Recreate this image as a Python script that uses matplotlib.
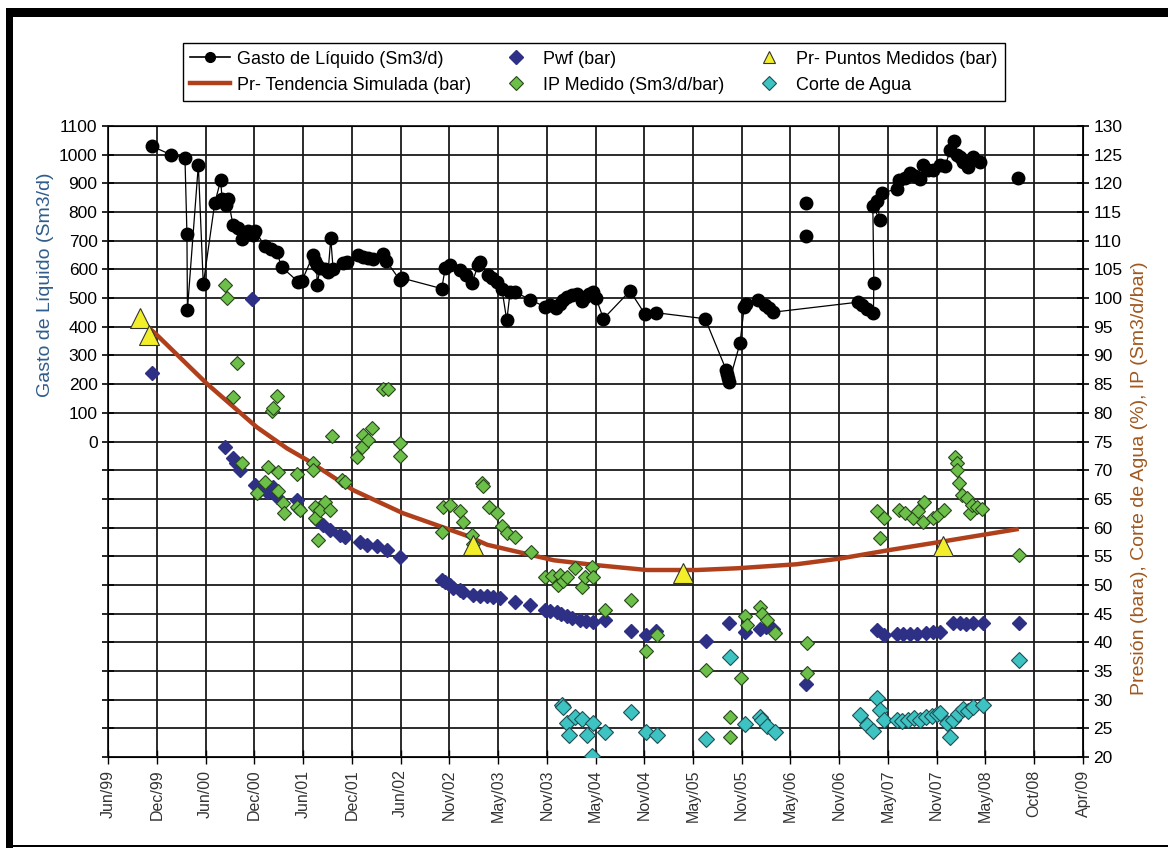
import numpy as np
import matplotlib.pyplot as plt
from matplotlib.lines import Line2D
from matplotlib.patches import Rectangle

plt.rcParams['font.family'] = ['Liberation Sans Narrow', 'Liberation Sans', 'DejaVu Sans']

# Eje X (años decimales) y etiquetas de fecha.
x_start, x_end = 1999.414, 2009.25
tick_labels = ['Jun/99', 'Dec/99', 'Jun/00', 'Dec/00', 'Jun/01', 'Dec/01', 'Jun/02',
               'Nov/02', 'May/03', 'Nov/03', 'May/04', 'Nov/04', 'May/05', 'Nov/05',
               'May/06', 'Nov/06', 'May/07', 'Nov/07', 'May/08', 'Oct/08', 'Apr/09']

# Gasto de liquido (Sm3/d) - serie con linea.
gasto_t = [1999.855, 2000.047, 2000.19, 2000.21, 2000.215, 2000.325, 2000.375, 2000.49,
           2000.55, 2000.565, 2000.605, 2000.625, 2000.675, 2000.725, 2000.763, 2000.827,
           2000.88, 2000.897, 2000.998, 2001.06, 2001.116, 2001.167, 2001.335, 2001.37,
           2001.483, 2001.503, 2001.52, 2001.523, 2001.553, 2001.604, 2001.634, 2001.661,
           2001.685, 2001.785, 2001.826, 2001.937, 2001.987, 2002.038, 2002.088, 2002.19,
           2002.22, 2002.36, 2002.378, 2002.781, 2002.815, 2002.865, 2002.966, 2003.027,
           2003.084, 2003.148, 2003.168, 2003.252, 2003.289, 2003.336, 2003.387, 2003.437,
           2003.47, 2003.52, 2003.672, 2003.824, 2003.874, 2003.935, 2003.975, 2004.005,
           2004.043, 2004.096, 2004.147, 2004.197, 2004.227, 2004.268, 2004.311, 2004.338,
           2004.412, 2004.68, 2004.833, 2004.944, 2005.438, 2005.65, 2005.66, 2005.673,
           2005.68, 2005.79, 2005.832, 2005.852, 2005.976, 2006.044, 2006.084, 2006.127,
           2006.985, 2007.02, 2007.07, 2007.136, 2007.14, 2007.13, 2007.2, 2007.174,
           2007.225, 2007.37, 2007.39, 2007.456, 2007.507, 2007.557, 2007.608, 2007.64,
           2007.69, 2007.742, 2007.81, 2007.86, 2007.91, 2007.944, 2007.98, 2008.01,
           2008.04, 2008.095, 2008.145, 2008.213]
gasto_q = [1030, 1000, 990, 725, 460, 964, 548, 830,
           911, 845, 825, 845, 755, 745, 705, 735,
           720, 735, 680, 670, 660, 608, 556, 560,
           650, 630, 615, 545, 605, 600, 590, 708,
           600, 621, 625, 650, 645, 640, 638, 655,
           630, 562, 570, 533, 604, 615, 597, 580,
           551, 615, 625, 580, 570, 556, 533, 422,
           520, 521, 495, 469, 475, 464, 480, 495,
           503, 510, 515, 490, 505, 515, 521, 500,
           428, 525, 443, 449, 428, 250, 235, 220,
           207, 343, 469, 480, 492, 475, 465, 451,
           486, 475, 463, 448, 554, 822, 772, 837,
           865, 882, 911, 920, 935, 925, 917, 964,
           945, 946, 964, 960, 1016, 1048, 1000, 993,
           975, 958, 993, 975]

# Puntos de gasto sin linea.
gasto_sueltos_t = [2006.46, 2006.46, 2008.594]
gasto_sueltos_q = [831, 715, 920]

# Pwf (bar)
pwf_t = [1999.858, 2000.867, 2000.595, 2000.678, 2000.706, 2000.746, 2000.897, 2000.948,
         2001.015, 2001.082, 2001.116, 2001.318, 2001.334, 2001.52, 2001.587, 2001.654,
         2001.755, 2001.806, 2001.957, 2002.025, 2002.125, 2002.226, 2002.36, 2002.781,
         2002.815, 2002.865, 2002.899, 2002.966, 2003.0, 2003.1, 2003.168, 2003.236,
         2003.3, 2003.37, 2003.52, 2003.672, 2003.824, 2003.874, 2003.942, 2003.985,
         2004.043, 2004.096, 2004.177, 2004.238, 2004.311, 2004.43, 2004.688, 2004.843,
         2004.944, 2005.449, 2005.674, 2005.842, 2005.993, 2006.054, 2006.127, 2006.458,
         2007.171, 2007.238, 2007.373, 2007.436, 2007.507, 2007.578, 2007.668, 2007.739,
         2007.81, 2007.941, 2008.012, 2008.072, 2008.143, 2008.244, 2008.6]
pwf_p = [86.9, 99.8, 74.1, 72.1, 71.2, 70.0, 67.5, 66.5,
         66.2, 67.1, 65.4, 64.8, 63.4, 61.3, 60.4, 59.6,
         58.7, 58.4, 57.5, 57.0, 56.7, 56.1, 54.9, 50.9,
         50.5, 50.0, 49.4, 49.1, 48.8, 48.3, 48.1, 48.0,
         47.9, 47.7, 47.1, 46.5, 45.6, 45.5, 45.3, 45.0,
         44.5, 44.2, 43.9, 43.7, 43.6, 43.8, 42.0, 41.3,
         42.0, 40.3, 43.3, 41.8, 42.4, 42.6, 42.4, 32.8,
         42.1, 41.3, 41.4, 41.4, 41.5, 41.5, 41.7, 41.8,
         41.8, 43.3, 43.3, 43.2, 43.3, 43.3, 43.3]

# IP Medido (Sm3/d/bar)
ip_t = [2000.595, 2000.612, 2000.672, 2000.713, 2000.763, 2000.914, 2000.998, 2001.032,
        2001.066, 2001.076, 2001.116, 2001.133, 2001.133, 2001.183, 2001.19, 2001.318,
        2001.324, 2001.351, 2001.486, 2001.486, 2001.503, 2001.503, 2001.536, 2001.553,
        2001.604, 2001.654, 2001.671, 2001.772, 2001.806, 2001.924, 2001.974, 2001.99,
        2002.075, 2002.041, 2002.192, 2002.243, 2002.36, 2002.36, 2002.781, 2002.798,
        2002.865, 2002.966, 2003.0, 2003.084, 2003.1, 2003.185, 2003.198, 2003.255,
        2003.336, 2003.387, 2003.437, 2003.52, 2003.68, 2003.824, 2003.891, 2003.958,
        2003.975, 2004.008, 2004.043, 2004.126, 2004.194, 2004.227, 2004.295, 2004.311,
        2004.43, 2004.688, 2004.843, 2004.951, 2005.449, 2005.684, 2005.684, 2005.799,
        2005.842, 2005.859, 2005.993, 2006.014, 2006.061, 2006.145, 2006.465, 2006.465,
        2007.171, 2007.205, 2007.238, 2007.393, 2007.456, 2007.54, 2007.588, 2007.641,
        2007.648, 2007.742, 2007.79, 2007.843, 2007.961, 2007.978, 2007.978, 2008.001,
        2008.028, 2008.079, 2008.112, 2008.129, 2008.18, 2008.23, 2008.6]
ip_v = [102.3, 100.0, 82.8, 88.6, 71.2, 66.0, 68.0, 70.6,
        80.4, 80.8, 82.9, 69.7, 66.3, 64.2, 62.5, 63.6,
        69.4, 63.1, 71.2, 70.0, 63.6, 61.6, 57.8, 63.1,
        64.5, 63.1, 76.0, 68.3, 68.0, 72.3, 74.1, 76.1,
        77.3, 75.3, 84.1, 84.1, 74.7, 72.4, 59.3, 63.6,
        63.9, 62.8, 61.0, 58.7, 57.2, 67.7, 67.3, 63.6,
        62.5, 60.2, 59.0, 58.4, 55.8, 51.4, 51.5, 50.0,
        51.7, 50.6, 51.4, 52.9, 49.7, 51.4, 53.2, 51.4,
        45.6, 47.4, 38.4, 41.3, 35.2, 27.0, 23.5, 33.7,
        44.5, 43.0, 46.2, 45.0, 43.9, 41.6, 39.8, 34.6,
        62.8, 58.1, 61.6, 63.1, 62.5, 61.6, 62.8, 61.0,
        64.5, 61.6, 62.2, 63.1, 72.3, 71.2, 70.0, 67.7,
        65.7, 65.1, 62.5, 63.9, 63.6, 63.3, 55.2]

# Corte de Agua (%)
agua_t = [2003.992, 2004.005, 2004.043, 2004.06, 2004.126, 2004.194, 2004.245, 2004.295,
          2004.311, 2004.43, 2004.692, 2004.843, 2004.951, 2005.449, 2005.684, 2005.842,
          2005.993, 2006.014, 2006.061, 2006.145, 2007.0, 2007.07, 2007.136, 2007.171,
          2007.205, 2007.238, 2007.373, 2007.427, 2007.487, 2007.548, 2007.608, 2007.668,
          2007.729, 2007.78, 2007.81, 2007.877, 2007.911, 2007.941, 2007.99, 2008.04,
          2008.09, 2008.14, 2008.244, 2008.6]
agua_v = [29.1, 28.8, 25.9, 23.8, 27.0, 26.7, 23.8, 20.1,
          25.9, 24.4, 27.9, 24.4, 23.8, 23.1, 37.5, 25.7,
          27.0, 26.5, 25.4, 24.4, 27.3, 25.5, 24.6, 30.2,
          28.2, 26.5, 26.5, 26.3, 26.5, 26.8, 26.5, 27.0,
          27.2, 27.5, 27.7, 25.9, 23.5, 26.5, 27.5, 28.3,
          28.0, 28.8, 29.1, 36.9]

# Pr- Puntos Medidos (bar)
pr_med_t = [1999.737, 1999.828, 2003.097, 2005.216, 2007.84]
pr_med_p = [96.5, 93.6, 57.0, 52.0, 56.8]

# Pr- Tendencia Simulada (bar)
pr_sim_t = [1999.84, 1999.905, 2000.41, 2000.915, 2001.22, 2001.42, 2001.89, 2002.39,
            2003.03, 2003.24, 2003.91, 2004.31, 2004.85, 2005.355, 2005.76, 2006.36,
            2006.80, 2007.305, 2007.81, 2008.58]
pr_sim_p = [94.6, 93.6, 85.1, 77.5, 73.8, 71.8, 66.5, 62.5,
            58.6, 57.0, 54.3, 53.5, 52.6, 52.6, 52.9, 53.6,
            54.6, 56.1, 57.5, 59.7]

# Figura y ejes.
fig = plt.figure(figsize=(11.68, 8.48), dpi=100)
ax = fig.add_axes([0.0925, 0.1073, 0.8347, 0.7441])
ax2 = ax.twinx()

grid_color = '#1a1a1a'

# Eje izquierdo: gasto.
ax.set_xlim(x_start, x_end)
ax.set_ylim(-1100, 1100)
ax.set_yticks(np.arange(-1100, 1101, 100))
ax.set_yticklabels([str(v) if v >= 0 else '' for v in range(-1100, 1101, 100)])
ax.set_xticks(np.linspace(x_start, x_end, len(tick_labels)))
ax.set_xticklabels(tick_labels, rotation=90, fontsize=11.5, color='#333333')
ax.grid(True, color=grid_color, linewidth=1.3, zorder=0)
ax.tick_params(axis='y', direction='inout', length=9, width=1.2, labelsize=12.5, pad=3)
ax.tick_params(axis='x', direction='inout', length=10, width=1.0, pad=4)
for s in ax.spines.values():
    s.set_color(grid_color)
    s.set_linewidth(1.3)

ax.plot(gasto_t, gasto_q, color='black', linewidth=0.9, marker='o', markersize=9,
        markerfacecolor='black', markeredgecolor='black', zorder=3)
ax.plot(gasto_sueltos_t, gasto_sueltos_q, linestyle='none', marker='o', markersize=9,
        markerfacecolor='black', markeredgecolor='black', zorder=3)

# Eje derecho: presiones, IP y corte de agua.
ax2.set_ylim(20, 130)
ax2.set_yticks(np.arange(20, 131, 5))
ax2.tick_params(axis='y', direction='inout', length=9, width=1.2, labelsize=12.5, pad=3)

ax2.plot(pr_sim_t, pr_sim_p, color='#b0401c', linewidth=3.2, zorder=2)
ax2.plot(pwf_t, pwf_p, linestyle='none', marker='D', markersize=7.5,
         markerfacecolor='#2e3085', markeredgecolor='#2e3085', zorder=3)
ax2.plot(ip_t, ip_v, linestyle='none', marker='D', markersize=7.5,
         markerfacecolor='#6cc04a', markeredgecolor='#28481a', markeredgewidth=0.8, zorder=4)
ax2.plot(agua_t, agua_v, linestyle='none', marker='D', markersize=8,
         markerfacecolor='#3ec3c3', markeredgecolor='#1f4f55', markeredgewidth=0.8, zorder=4)
ax2.plot(pr_med_t, pr_med_p, linestyle='none', marker='^', markersize=15,
         markerfacecolor='#f2ef2a', markeredgecolor='#333333', markeredgewidth=0.8, zorder=5)

# Titulos de ejes.
fig.text(0.039, 0.664, 'Gasto de Líquido (Sm3/d)', rotation=90, ha='center', va='center',
         fontsize=14, color='#2f5d8c')
fig.text(0.976, 0.436, 'Presión (bara), Corte de Agua (%), IP (Sm3/d/bar)', rotation=90,
         ha='center', va='center', fontsize=14, color='#a0581f')

# Leyenda.
handles = [
    Line2D([], [], color='black', linewidth=1.2, marker='o', markersize=7),
    Line2D([], [], color='#b0401c', linewidth=3.2),
    Line2D([], [], linestyle='none', marker='D', markersize=7, markerfacecolor='#2e3085',
           markeredgecolor='#2e3085'),
    Line2D([], [], linestyle='none', marker='D', markersize=7, markerfacecolor='#6cc04a',
           markeredgecolor='#28481a', markeredgewidth=0.8),
    Line2D([], [], linestyle='none', marker='^', markersize=9, markerfacecolor='#f2ef2a',
           markeredgecolor='#333333', markeredgewidth=0.8),
    Line2D([], [], linestyle='none', marker='D', markersize=7, markerfacecolor='#3ec3c3',
           markeredgecolor='#1f4f55', markeredgewidth=0.8),
]
labels = ['Gasto de Líquido (Sm3/d)', 'Pr- Tendencia Simulada (bar)', 'Pwf (bar)',
          'IP Medido (Sm3/d/bar)', 'Pr- Puntos Medidos (bar)', 'Corte de Agua']
leg = fig.legend(handles, labels, ncol=3, loc='lower left',
                 bbox_to_anchor=(0.1567, 0.881, 0.7038, 0.081), mode='expand',
                 borderaxespad=0, fancybox=False, edgecolor='black', fontsize=13,
                 handlelength=2.2, handletextpad=0.4, columnspacing=1.0,
                 labelspacing=0.5, framealpha=1)
leg.get_frame().set_linewidth(1.0)

# Marco negro: grueso arriba e izquierda, fino abajo.
W, H = 1168.0, 848.0
fig.patches.append(Rectangle((6 / W, 1 - 17 / H), 1 - 6 / W, 9 / H,
                             transform=fig.transFigure, facecolor='black', edgecolor='none'))
fig.patches.append(Rectangle((6 / W, 0), 7 / W, 1 - 8 / H,
                             transform=fig.transFigure, facecolor='black', edgecolor='none'))
fig.patches.append(Rectangle((6 / W, 1 / H), 1 - 6 / W, 2 / H,
                             transform=fig.transFigure, facecolor='black', edgecolor='none'))

fig.savefig('out.png', dpi=100)
